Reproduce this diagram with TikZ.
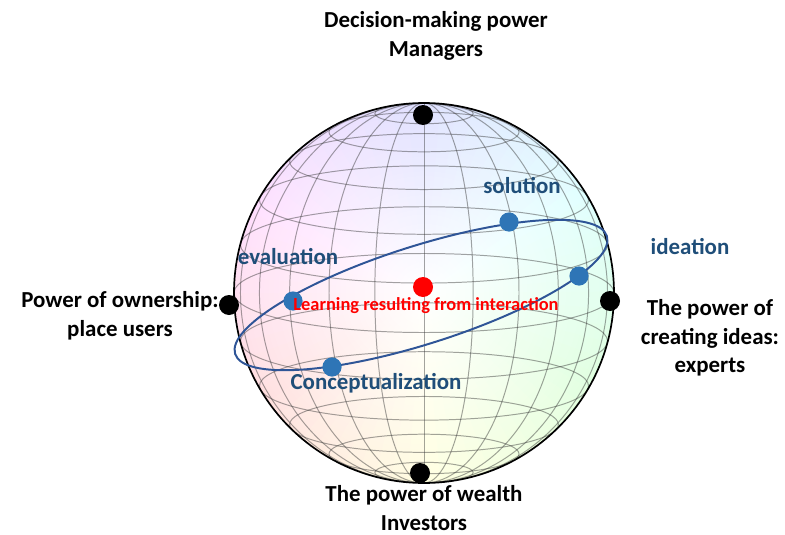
\documentclass[tikz,border=0pt]{standalone}
\usepackage{xcolor}
\usepackage{fontspec}
\setmainfont{Carlito}
\usepackage{tikz}
\usetikzlibrary{fadings}
\definecolor{stagedot}{HTML}{2E75B6}
\definecolor{stagetext}{HTML}{1F4E79}
\definecolor{cycleline}{HTML}{2F5597}
\pgfdeclareradialshading{rimshade}{\pgfpointorigin}{color(0bp)=(white); color(24bp)=(white!85!black); color(38bp)=(white!45!black); color(46bp)=(white!8!black); color(50bp)=(black)}
\pgfdeclarefading{rimfade}{\pgfuseshading{rimshade}}
\tikzstyle{pole} = [circle, fill=black, inner sep=0pt, minimum size=0.5cm]
\tikzstyle{stage} = [circle, fill=stagedot, inner sep=0pt, minimum size=0.48cm]
\tikzstyle{core} = [circle, fill=red, inner sep=0pt, minimum size=0.5cm]
\tikzstyle{power} = [align=center, font=\bfseries\fontsize{16.3}{20.3}\selectfont]
\tikzstyle{stagelabel} = [text=stagetext, font=\bfseries\fontsize{16.3}{20.3}\selectfont]
\tikzstyle{grid} = [black!80, opacity=0.45, line width=0.7pt]

\begin{document}
\begin{tikzpicture}
\useasboundingbox (0,0) rectangle (19.625,13.35);
% the globe
\begin{scope}[shift={(10.6,6.025)}]
\clip (0,0) circle (4.75);
\foreach \a in {0,5,...,355} {
  \pgfmathsetmacro{\hue}{mod(150+\a,360)}
  \definecolor{rim}{Hsb}{\hue,0.75,1}
  \fill[rim] (0,0) -- (\a:4.8) arc (\a:\a+5.5:4.8) -- cycle;
}
\fill[white, path fading=rimfade, fit fading=true] (0,0) circle (4.75);
\draw[grid] (0,-4.75) -- (0,4.75);
\foreach \k in {15,30,...,75}
  \draw[grid] (0,0) ellipse ({4.75*sin(\k)} and 4.75);
\foreach \k in {-75,-60,...,75}
  \draw[grid] (0,{4.75*sin(\k)*cos(12)}) ellipse ({4.75*cos(\k)} and {4.75*cos(\k)*sin(12)});
\end{scope}
\draw[black, line width=1.2pt] (10.6,6.025) circle (4.75);
% the learning cycle
\draw[cycleline, line width=1.4pt, shift={(10.525,5.975)}, rotate=17.6] (0,0) ellipse (4.875 and 1.225);
\node [pole] (managers) at (10.575,10.475) {};
\node [pole] (investors) at (10.5,1.525) {};
\node [pole] (users) at (5.725,5.725) {};
\node [pole] (experts) at (15.25,5.825) {};
\node [stage] (solution) at (12.725,7.8) {};
\node [stage] (ideation) at (14.475,6.45) {};
\node [stage] (evaluation) at (7.325,5.825) {};
\node [stage] (concept) at (8.3,4.175) {};
\node [core] (learning) at (10.575,6.175) {};
% labels
\node [power] (managers-text) at (10.9,12.45) {Decision-making power\\Managers};
\node [power] (investors-text) at (10.6,0.65) {The power of wealth\\Investors};
\node [power] (users-text) at (3.0,5.45) {Power of ownership:\\place users};
\node [power] (experts-text) at (17.75,4.9) {The power of\\creating ideas:\\experts};
\node [stagelabel] (solution-text) at (13.05,8.7) {solution};
\node [stagelabel] (ideation-text) at (17.25,7.175) {ideation};
\node [stagelabel] (evaluation-text) at (7.2,6.925) {evaluation};
\node [stagelabel] (concept-text) at (9.4,3.775) {Conceptualization};
\node [text=red, font=\bfseries\fontsize{13.1}{16}\selectfont] (learning-text) at (10.65,5.7) {Learning resulting from interaction};
\end{tikzpicture}
\end{document}
